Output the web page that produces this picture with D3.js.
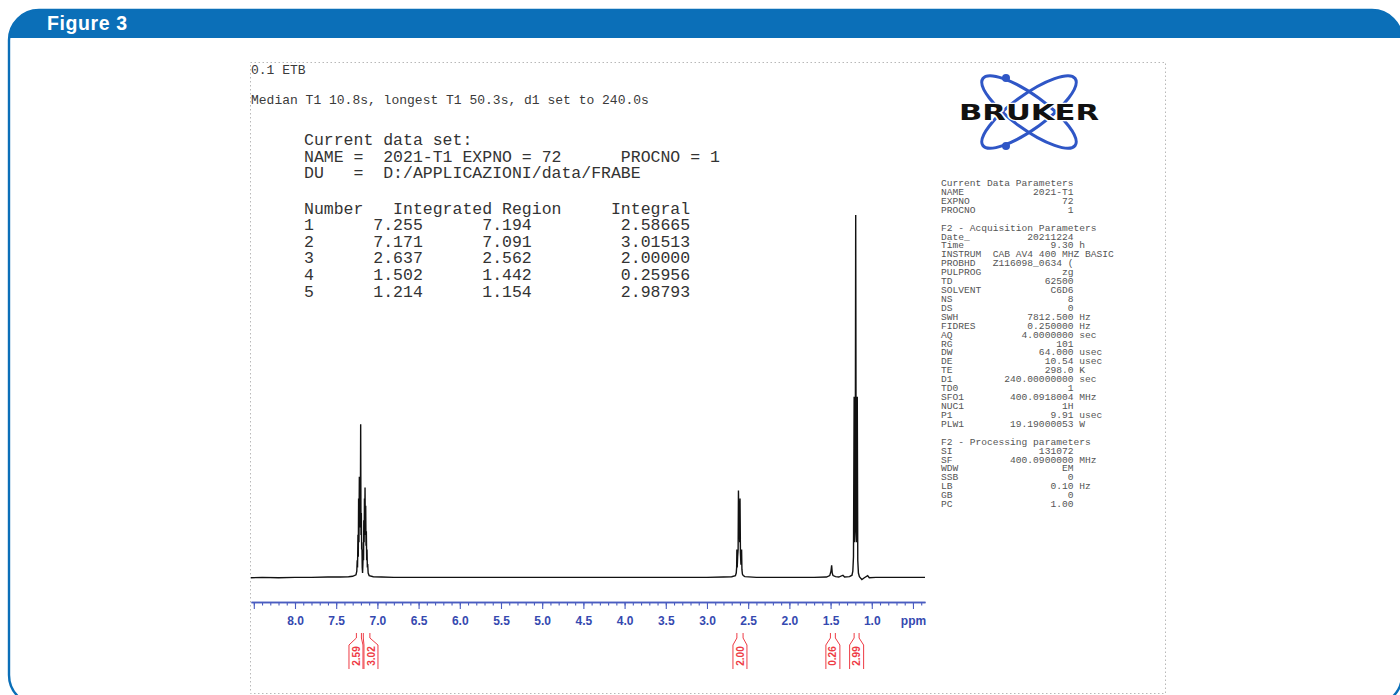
<!DOCTYPE html>
<html><head><meta charset="utf-8">
<script src="https://cdn.jsdelivr.net/npm/d3@7"></script>
<style>body{margin:0;background:#fff} svg{display:block} text{white-space:pre}</style>
</head><body><svg id="c" width="1400" height="695"></svg>
<script>
// ---------- data ----------
const titleText = "Figure 3";
const sampleLine = "0.1 ETB";
const t1Line = "Median T1 10.8s, longest T1 50.3s, d1 set to 240.0s";
const dataSetLines = [
  "Current data set:",
  "NAME =  2021-T1 EXPNO = 72      PROCNO = 1",
  "DU   =  D:/APPLICAZIONI/data/FRABE"
];
const tableHeader = "Number   Integrated Region     Integral";
const regionNumber = [1, 2, 3, 4, 5];
const regionFrom = [7.255, 7.171, 2.637, 1.502, 1.214];
const regionTo = [7.194, 7.091, 2.562, 1.442, 1.154];
const regionIntegral = ["2.58665", "3.01513", "2.00000", "0.25956", "2.98793"];
const integralLabels = ["2.59", "3.02", "2.00", "0.26", "2.99"];
const integralLabelPpm = [7.26, 7.078, 2.600, 1.472, 1.184];

const majorTicks = [8.5, 8.0, 7.5, 7.0, 6.5, 6.0, 5.5, 5.0, 4.5, 4.0, 3.5, 3.0, 2.5, 2.0, 1.5, 1.0, 0.5];
const majorTickLabels = ["", "8.0", "7.5", "7.0", "6.5", "6.0", "5.5", "5.0", "4.5", "4.0", "3.5", "3.0", "2.5", "2.0", "1.5", "1.0", "ppm"];

const paramKeys = ["Current Data Parameters", "NAME", "EXPNO", "PROCNO", "",
  "F2 - Acquisition Parameters", "Date_", "Time", "INSTRUM", "PROBHD", "PULPROG", "TD", "SOLVENT", "NS", "DS",
  "SWH", "FIDRES", "AQ", "RG", "DW", "DE", "TE", "D1", "TD0", "SFO1", "NUC1", "P1", "PLW1", "",
  "F2 - Processing parameters", "SI", "SF", "WDW", "SSB", "LB", "GB", "PC"];
const paramValues = ["", "2021-T1", "72", "1", "",
  "", "20211224", "9.30", "CAB AV4 400 MHZ BASIC", "Z116098_0634 (", "zg", "62500", "C6D6", "8", "0",
  "7812.500", "0.250000", "4.0000000", "101", "64.000", "10.54", "298.0", "240.00000000", "1", "400.0918004", "1H", "9.91", "19.19000053", "",
  "", "131072", "400.0900000", "EM", "0", "0.10", "0", "1.00"];
const paramUnits = ["", "", "", "", "",
  "", "", "h", "", "", "", "", "", "", "",
  "Hz", "Hz", "sec", "", "usec", "usec", "K", "sec", "", "MHz", "", "usec", "W", "",
  "", "", "MHz", "", "", "Hz", "", ""];

// spectrum: [ppm, relative intensity]
const spectrum = [
  [8.534,0.2],[8.40,0.3],[8.20,0.2],[8.00,0.3],[7.80,0.3],[7.60,0.4],[7.45,0.4],[7.35,0.5],[7.30,0.6],[7.26,1.0],
  [7.250,2],[7.245,5],[7.241,3],[7.236,12],[7.232,6],[7.228,22],[7.224,10],[7.219,28],[7.215,14],[7.211,26],
  [7.207,16],[7.203,42.4],[7.199,12],[7.195,18],[7.191,8],[7.188,10],[7.184,3],[7.180,1.5],[7.176,4],[7.172,8],
  [7.168,5],[7.165,16],[7.161,10],[7.157,22],[7.154,14],[7.150,25],[7.146,12],[7.142,20],[7.138,9],[7.134,13],
  [7.130,5],[7.126,8],[7.122,3],[7.118,4],[7.112,1.5],[7.10,0.8],[7.05,0.5],[6.95,0.4],
  [6.80,0.3],[6.50,0.3],[6.00,0.3],[5.50,0.3],[5.00,0.3],[4.50,0.3],[4.00,0.3],[3.50,0.3],[3.00,0.3],[2.80,0.4],[2.70,0.5],
  [2.655,0.8],[2.645,1.5],[2.640,3],[2.637,8],[2.633,3],[2.628,6],[2.622,8],[2.618,24.2],[2.612,12],[2.608,14],
  [2.603,10],[2.599,22],[2.594,7],[2.588,4],[2.583,4],[2.580,8],[2.576,2.5],[2.570,1.2],[2.56,0.8],[2.54,0.5],
  [2.40,0.3],[2.00,0.3],[1.70,0.3],[1.55,0.4],[1.51,0.8],[1.495,2],[1.487,3.6],[1.480,1.5],[1.470,0.8],[1.44,0.5],
  [1.40,0.4],[1.35,0.9],[1.33,0.4],[1.27,0.5],[1.24,0.9],
  [1.230,2],[1.222,6],[1.214,50],[1.207,10],[1.201,16],[1.195,100],[1.189,14],[1.183,10],[1.176,50],[1.170,5],
  [1.162,1.5],[1.150,0.5],[1.12,-0.3],[1.09,0.2],[1.05,0.8],[1.03,0.2],[0.95,0.3],[0.80,0.3],[0.60,0.3],[0.354,0.3]
];

// ---------- drawing ----------
const svg = d3.select("#c");
const blue = "#0b6fb8";
const mono = "'Liberation Mono','Courier New',monospace";

// outer frame with rounded corners
const frameX = 9, frameY = 10, frameW = 1393, frameH = 695, frameR = 30;
svg.append("clipPath").attr("id", "fr").append("rect")
  .attr("x", frameX).attr("y", frameY).attr("width", frameW).attr("height", frameH).attr("rx", frameR);
svg.append("rect").attr("x", frameX).attr("y", frameY).attr("width", frameW).attr("height", frameH)
  .attr("rx", frameR).attr("fill", "#fff");
svg.append("rect").attr("clip-path", "url(#fr)").attr("x", frameX).attr("y", frameY)
  .attr("width", frameW).attr("height", 28).attr("fill", blue);
svg.append("rect").attr("x", frameX).attr("y", frameY).attr("width", frameW).attr("height", frameH)
  .attr("rx", frameR).attr("fill", "none").attr("stroke", blue).attr("stroke-width", 2.4);
svg.append("text").attr("x", 47).attr("y", 30).text(titleText)
  .attr("fill", "#fff").attr("font-family", "'Liberation Sans',Arial,sans-serif")
  .attr("font-weight", "bold").attr("font-size", 19.5).attr("letter-spacing", 0.6);

// dotted inner frame
svg.append("rect").attr("x", 250.5).attr("y", 62.5).attr("width", 915).attr("height", 631)
  .attr("fill", "none").attr("stroke", "#b8b8b8").attr("stroke-width", 1).attr("stroke-dasharray", "1.5,2.5");

// header texts
svg.append("text").attr("x", 251).attr("y", 74).text(sampleLine)
  .attr("font-family", mono).attr("font-size", 13).attr("fill", "#3a3a3a");
svg.append("text").attr("x", 251).attr("y", 104).text(t1Line)
  .attr("font-family", mono).attr("font-size", 13).attr("fill", "#3a3a3a");

const big = svg.append("g").attr("font-family", mono).attr("font-size", 16.5).attr("fill", "#333");
big.selectAll("text.ds").data(dataSetLines).join("text").attr("class", "ds")
  .attr("x", 304).attr("y", (d, i) => 145 + i * 16.5).text(d => d);
const tableRows = [tableHeader].concat(regionNumber.map((n, i) =>
  String(n).padEnd(7) + regionFrom[i].toFixed(3).padEnd(11) + regionTo[i].toFixed(3).padEnd(14) + regionIntegral[i]));
big.selectAll("text.tb").data(tableRows).join("text").attr("class", "tb")
  .attr("x", 304).attr("y", (d, i) => 213.5 + i * 16.6).text(d => d);

// Bruker logo
const logo = svg.append("g").attr("transform", "translate(1029,112)");
[-36, 36].forEach(a => logo.append("ellipse").attr("rx", 57).attr("ry", 17)
  .attr("transform", `rotate(${a})`).attr("fill", "none").attr("stroke", "#2f56c6").attr("stroke-width", 3));
logo.append("circle").attr("cx", -23).attr("cy", -34).attr("r", 4).attr("fill", "#2f56c6");
logo.append("circle").attr("cx", -23).attr("cy", 34).attr("r", 4).attr("fill", "#2f56c6");
logo.append("text").attr("x", -70).attr("y", 8).text("BRUKER")
  .attr("font-family", "'DejaVu Sans',sans-serif").attr("font-weight", "bold").attr("font-size", 21)
  .attr("textLength", 140).attr("lengthAdjust", "spacingAndGlyphs")
  .attr("fill", "#111").attr("stroke", "#fff").attr("stroke-width", 2.5).attr("paint-order", "stroke");

// parameter listing
const paramLines = paramKeys.map((k, i) => {
  const v = paramValues[i], u = paramUnits[i];
  if (!v) return k;
  return k.padEnd(9) + v.padStart(14) + (u ? " " + u : "");
});
svg.append("g").attr("font-family", mono).attr("font-size", 9.6).attr("fill", "#555")
  .selectAll("text").data(paramLines).join("text")
  .attr("x", 941).attr("y", (d, i) => 186 + i * 8.92).text(d => d);

// spectrum
const x = d3.scaleLinear().domain([8.534, 0.354]).range([251, 925]);
const y = d3.scaleLinear().domain([0, 100]).range([578.5, 215]);
svg.append("path").datum(spectrum)
  .attr("d", d3.line().x(d => x(d[0])).y(d => y(d[1])))
  .attr("fill", "none").attr("stroke", "#111").attr("stroke-width", 1.4).attr("stroke-linejoin", "miter");

// axis
const axisY = 602;
const minorTicks = d3.range(4, 86).map(d => d / 10);
const axisColor = "#4a5cc0";
const gMinor = svg.append("g").attr("transform", `translate(0,${axisY})`)
  .call(d3.axisBottom(x).tickValues(minorTicks).tickSize(3.5).tickSizeOuter(0).tickFormat(""));
const gMajor = svg.append("g").attr("transform", `translate(0,${axisY})`)
  .call(d3.axisBottom(x).tickValues(majorTicks).tickSize(7).tickSizeOuter(0).tickPadding(7)
    .tickFormat((d, i) => majorTickLabels[i]));
[gMinor, gMajor].forEach(g => {
  g.select(".domain").attr("stroke", axisColor).attr("stroke-width", 1.3);
  g.selectAll(".tick line").attr("stroke", axisColor).attr("stroke-width", 1.1);
});
gMajor.selectAll(".tick text").attr("fill", "#3549b0").attr("font-size", 12).attr("font-weight", "bold")
  .attr("font-family", "'Liberation Sans',Arial,sans-serif");

// integral brackets
const red = "#ee3b45";
const gi = svg.append("g");
integralLabels.forEach((lab, i) => {
  const x0 = x(regionFrom[i]), x1 = x(regionTo[i]), bx = x(integralLabelPpm[i]);
  const p = d3.path();
  p.moveTo(x0, 633); p.lineTo(x0, 638); p.lineTo(bx - 7, 645); p.lineTo(bx - 7, 669);
  p.moveTo(x1, 633); p.lineTo(x1, 638); p.lineTo(bx + 7, 645); p.lineTo(bx + 7, 669);
  gi.append("path").attr("d", p.toString()).attr("fill", "none").attr("stroke", red).attr("stroke-width", 1);
  gi.append("text").attr("transform", `translate(${bx},656) rotate(-90)`).attr("dy", "0.36em")
    .attr("text-anchor", "middle").text(lab).attr("fill", red).attr("font-size", 10).attr("font-weight", "bold")
    .attr("font-family", "'Liberation Sans',Arial,sans-serif");
});
</script></body></html>
